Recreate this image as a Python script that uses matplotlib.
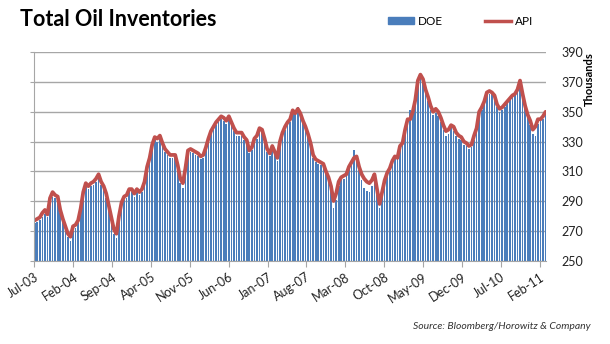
import matplotlib
matplotlib.use("Agg")
import matplotlib.pyplot as plt
from matplotlib.patches import Patch
from matplotlib.lines import Line2D
import pandas as pd

plt.rcParams['font.family'] = ['Lato', 'DejaVu Sans']

# valores (miles de barriles), cada 2 semanas desde jul-03
api = [277, 278, 279, 282, 284, 281, 292, 296, 294, 293,
       284, 278, 273, 268, 266, 273, 274, 277, 285, 296,
       302, 300, 302, 303, 305, 308, 303, 300, 295, 287,
       279, 271, 268, 280, 289, 293, 294, 298, 298, 295,
       298, 296, 298, 303, 313, 319, 328, 333, 332, 334,
       329, 325, 323, 321, 321, 321, 314, 305, 302, 312,
       324, 325, 324, 323, 322, 320, 321, 326, 332, 337,
       340, 343, 345, 347, 346, 344, 347, 343, 339, 336,
       336, 336, 333, 331, 324, 326, 332, 334, 339, 338,
       332, 325, 322, 327, 323, 319, 330, 336, 340, 343,
       345, 351, 349, 352, 349, 344, 340, 335, 329, 321,
       318, 317, 316, 315, 310, 306, 300, 290, 295, 303,
       306, 307, 308, 313, 316, 319, 320, 313, 308, 305,
       303, 302, 304, 308, 298, 288, 296, 304, 309, 312,
       317, 320, 319, 327, 329, 338, 345, 345, 350, 358,
       371, 375, 372, 365, 360, 354, 350, 352, 350, 346,
       341, 337, 338, 341, 340, 336, 334, 333, 330, 329,
       327, 328, 334, 339, 350, 353, 357, 363, 364, 363,
       361, 355, 352, 353, 355, 357, 359, 361, 362, 365,
       371, 362, 354, 348, 344, 338, 340, 345, 345, 347, 350]

doe = [275, 276, 277, 279, 281, 279, 289, 293, 292, 290,
       282, 276, 271, 266, 263, 270, 272, 275, 283, 293,
       300, 298, 300, 301, 303, 306, 301, 298, 292, 284,
       276, 268, 265, 277, 287, 291, 292, 296, 296, 293,
       296, 294, 296, 301, 311, 317, 326, 331, 330, 332,
       327, 323, 321, 319, 319, 319, 312, 302, 299, 309,
       322, 323, 322, 321, 320, 318, 319, 324, 330, 335,
       338, 341, 343, 345, 344, 342, 345, 341, 337, 334,
       334, 334, 331, 329, 322, 324, 330, 332, 337, 336,
       330, 323, 320, 325, 321, 317, 328, 334, 338, 341,
       343, 350, 349, 353, 350, 343, 338, 333, 327, 319,
       316, 315, 314, 313, 308, 304, 298, 285, 291, 300,
       304, 305, 307, 312, 315, 324, 319, 311, 304, 299,
       297, 296, 300, 305, 294, 285, 294, 302, 307, 310,
       316, 318, 318, 325, 328, 336, 343, 351, 349, 357,
       369, 373, 371, 364, 357, 351, 348, 349, 347, 343,
       338, 334, 335, 340, 337, 334, 332, 331, 328, 327,
       325, 326, 331, 336, 348, 351, 355, 361, 362, 364,
       360, 353, 350, 351, 353, 358, 360, 360, 363, 365,
       368, 361, 356, 347, 341, 335, 334, 342, 344, 345, 348]

fechas = pd.date_range("2003-07-04", periods=len(api), freq="14D")
tick_fechas = pd.date_range("2003-07-01", "2011-02-01", freq="7MS")
tick_labels = [d.strftime("%b-%y") for d in tick_fechas]
y_ticks = [250, 270, 290, 310, 330, 350, 370, 390]

fig = plt.figure(figsize=(6.1, 3.44), dpi=100)
ax = fig.add_axes([0.0557, 0.2427, 0.8393, 0.6052])

ax.bar(fechas, doe, width=9, color="#4a7dbb", linewidth=0)
ax.plot(fechas, api, color="#c0504d", lw=2.7, solid_capstyle="round")

# formato de ejes
ax.set_ylim(250, 390)
ax.set_xlim(pd.Timestamp("2003-06-30"), pd.Timestamp("2011-03-06"))
ax.set_yticks(y_ticks)
ax.yaxis.grid(True, color="#a6a6a6", lw=1)
ax.set_axisbelow(True)
for s in ["top", "right"]:
    ax.spines[s].set_visible(False)
for s in ["left", "bottom"]:
    ax.spines[s].set_color("#a6a6a6")
ax.yaxis.tick_right()
ax.tick_params(axis="y", left=True, right=False, labelleft=False, labelright=True,
               length=3, color="#a6a6a6", labelsize=9, pad=8, labelcolor="#222222")
ax.set_xticks(tick_fechas)
ax.set_xticklabels(tick_labels, rotation=33, ha="right", rotation_mode="anchor",
                   fontsize=9, color="#222222")
ax.tick_params(axis="x", length=4, color="#a6a6a6")

# textos
fig.text(0.033, 0.975, "Total Oil Inventories", fontsize=15.5, fontweight="bold", va="top")
fig.text(0.967, 0.77, "Thousands", rotation=90, fontsize=8, fontweight="bold",
         ha="center", va="center")
fig.text(0.968, 0.05, "Source: Bloomberg/Horowitz & Company", style="italic",
         fontsize=7.5, ha="right", va="center", color="#333333")

handles = [Patch(color="#4a7dbb"), Line2D([], [], color="#c0504d", lw=2.5)]
fig.legend(handles, ["DOE", "API"], loc="center", bbox_to_anchor=(0.755, 0.938),
           ncol=2, frameon=False, fontsize=8.5, columnspacing=3.6, handlelength=2.2,
           handleheight=0.5, handletextpad=0.3)

fig.savefig("out.png", dpi=100)
